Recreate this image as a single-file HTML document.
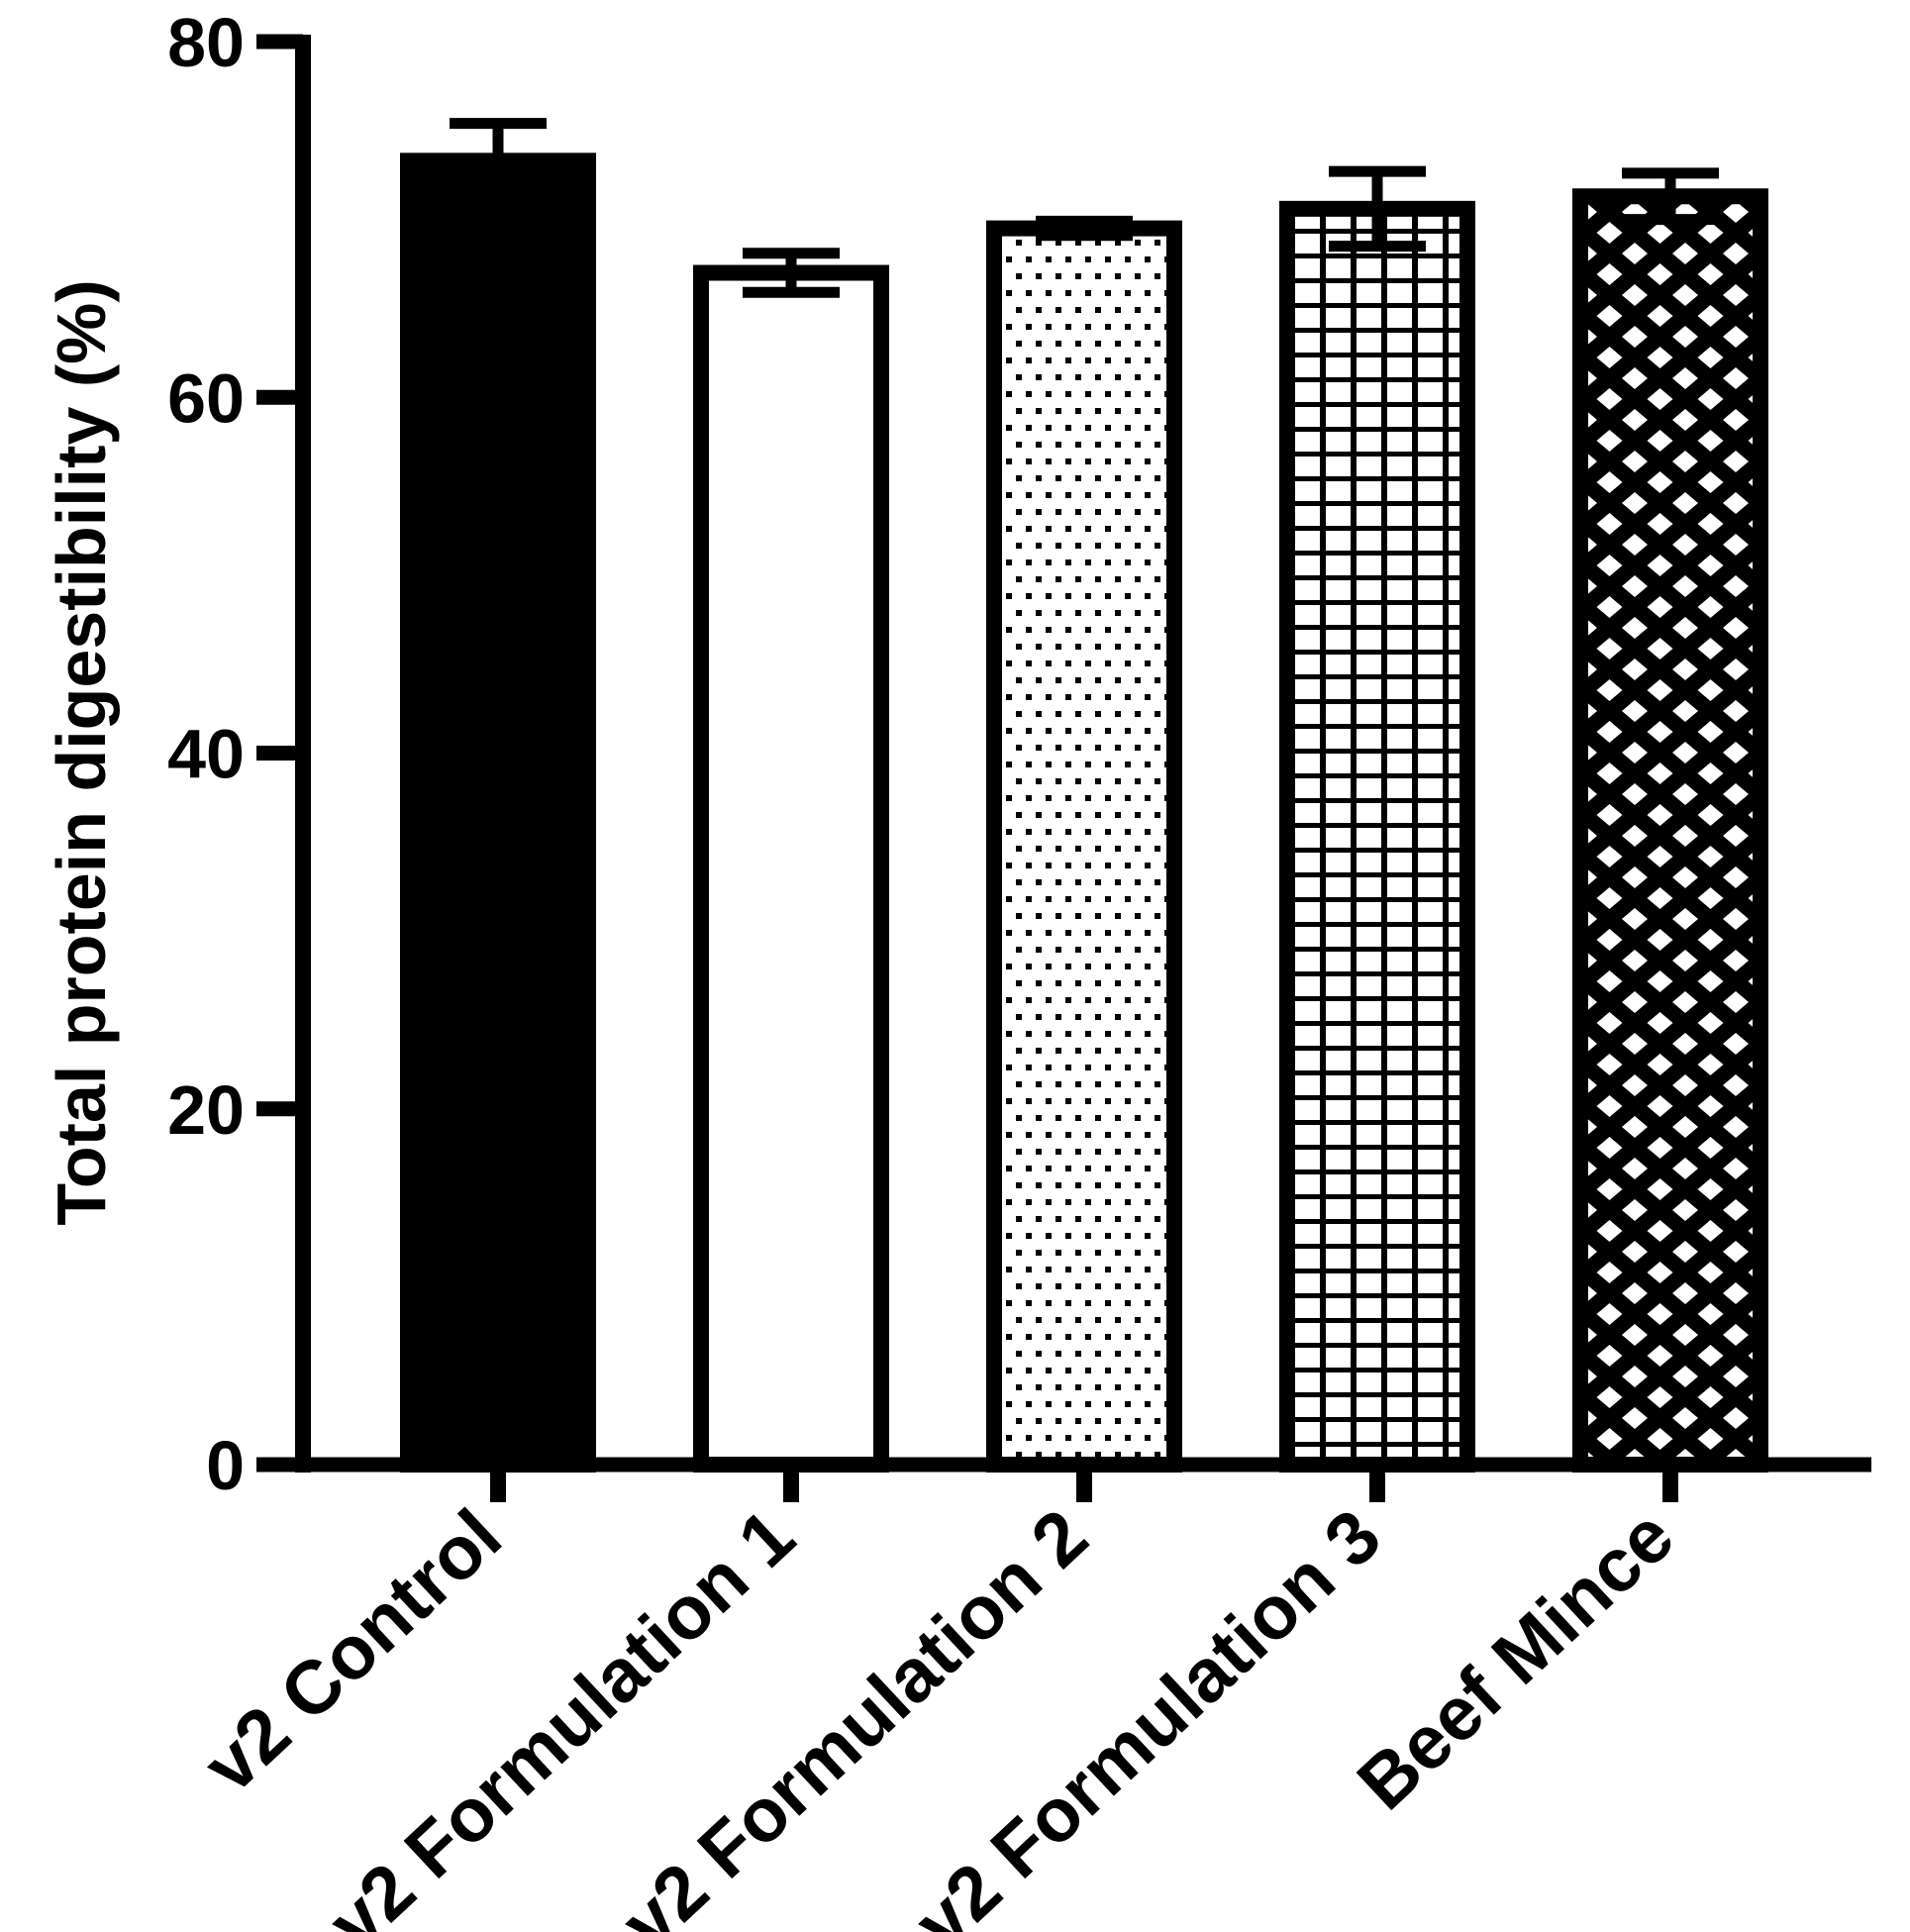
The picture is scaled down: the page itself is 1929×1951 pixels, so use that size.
<!DOCTYPE html>
<html><head><meta charset="utf-8">
<style>
html,body{margin:0;padding:0;background:#fff;}
svg{display:block;}
text{font-family:"Liberation Sans",Arial,sans-serif;font-weight:bold;fill:#000;}
</style></head>
<body>
<svg id="chart" width="1929" height="1951" viewBox="0 0 1929 1951" xmlns="http://www.w3.org/2000/svg">
<defs>
<pattern id="pDots" patternUnits="userSpaceOnUse" width="20" height="34" x="1002" y="0">
<rect x="4" y="4" width="6" height="6" fill="#000"/>
<rect x="14" y="21" width="6" height="6" fill="#000"/>
</pattern>
<pattern id="pGrid" patternUnits="userSpaceOnUse" width="31" height="25" x="1302" y="6">
<rect x="0" y="0" width="6" height="25" fill="#000"/>
<rect x="0" y="0" width="31" height="5" fill="#000"/>
</pattern>
<pattern id="pDiamond" patternUnits="userSpaceOnUse" width="51" height="42" x="1600" y="214">
<rect width="51" height="42" fill="#000"/>
<polygon points="0,-11 13,0 0,11 -13,0" fill="#fff"/>
<polygon points="51,-11 64,0 51,11 38,0" fill="#fff"/>
<polygon points="0,31 13,42 0,53 -13,42" fill="#fff"/>
<polygon points="51,31 64,42 51,53 38,42" fill="#fff"/>
<polygon points="25.5,10 38.5,21 25.5,32 12.5,21" fill="#fff"/>
</pattern>
</defs>
<g id="bars"></g>
<g id="axes"></g>
<text x="0" y="0" font-size="70" text-anchor="middle" transform="translate(106,760) rotate(-90)">Total protein digestibility (%)</text>
</svg>
<script>
const categories = ["v2 Control","v2 Formulation 1","v2 Formulation 2","v2 Formulation 3","Beef Mince"];
const means = [73.3, 67.0, 69.5, 70.6, 71.3];
const sds = [2.1, 1.1, 0.4, 2.1, 1.3];
const yTicks = [0, 20, 40, 60, 80];
const fills = ["#000","#fff","url(#pDots)","url(#pGrid)","url(#pDiamond)"];

const NS = "http://www.w3.org/2000/svg";
const y0 = 1479, yTop = 42, yMax = 80;
function yScale(v){ return y0 - (v / yMax) * (y0 - yTop); }
function xScale(i){ return 503 + i * 296; }
function mk(tag, attrs, parent){
  const e = document.createElementNS(NS, tag);
  for (const k in attrs) e.setAttribute(k, attrs[k]);
  parent.appendChild(e);
  return e;
}
const bars = document.getElementById('bars');
const axes = document.getElementById('axes');

categories.forEach((c, i) => {
  const cx = xScale(i);
  const yt = yScale(means[i]);
  const yu = yScale(means[i] + sds[i]);
  const yl = yScale(means[i] - sds[i]);
  const g = mk('g', {}, bars);
  
  
  const r = mk('rect', {x: cx - 91, y: yt, width: 182, height: y0 - yt, fill: fills[i], stroke: '#000', 'stroke-width': 16}, g);
  
  
  const eb = mk('path', {d: `M${cx},${yl} V${yu} M${cx-49},${yu} H${cx+49} M${cx-49},${yl} H${cx+49}`, stroke: '#000', 'stroke-width': 11, fill: 'none'}, g);
  
  
  const t = mk('line', {x1: cx, y1: y0, x2: cx, y2: 1517, stroke: '#000', 'stroke-width': 16}, axes);
  
  
  const lb = mk('text', {x: 0, y: 0, 'font-size': 76, 'text-anchor': 'end', transform: `translate(${cx + 8},1558) rotate(-43)`}, axes);
  lb.textContent = c;
  
  
});

const ya = mk('line', {x1: 306, y1: 35, x2: 306, y2: 1487, stroke: '#000', 'stroke-width': 16}, axes);


const xa = mk('line', {x1: 259, y1: y0, x2: 1890, y2: y0, stroke: '#000', 'stroke-width': 15}, axes);


yTicks.forEach(v => {
  const y = yScale(v);
  const t = mk('line', {x1: 259, y1: y, x2: 306, y2: y, stroke: '#000', 'stroke-width': 15}, axes);
  
  
  const tx = mk('text', {x: 247, y: y + 25, 'font-size': 70, 'text-anchor': 'end'}, axes);
  tx.textContent = v;
  
  
});
</script>
</body></html>
